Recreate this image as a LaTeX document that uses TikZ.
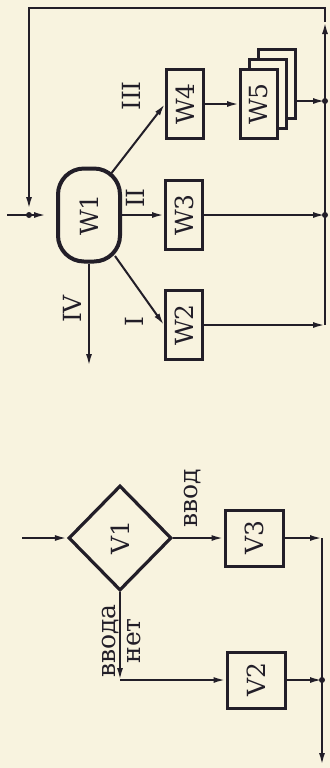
\documentclass[tikz,border=0pt]{standalone}
\usepackage{fontspec}
\setmainfont{DejaVu Serif}
\usepackage{graphicx}
\usetikzlibrary{arrows.meta, shapes.geometric}
\definecolor{ink}{HTML}{221E28}
\definecolor{paper}{HTML}{F8F3DF}
\newcommand{\vtext}[1]{\rotatebox{90}{#1}}

\begin{document}
\begin{tikzpicture}[
  x=0.5pt, y=-0.5pt, color=ink,
  font=\fontsize{12.5pt}{14pt}\selectfont,
  wbox/.style={rectangle, draw, line width=1.5pt, fill=paper,
    minimum width=18.5pt, minimum height=34.5pt, inner sep=0pt},
  vbox/.style={rectangle, draw, line width=1.5pt,
    minimum width=29pt, minimum height=28pt, inner sep=0pt},
  blob/.style={rectangle, draw, line width=2pt, rounded corners=13pt,
    minimum width=31pt, minimum height=46.5pt, inner sep=0pt},
  decide/.style={diamond, draw, line width=1.6pt,
    minimum width=51.5pt, minimum height=52.5pt, inner sep=0pt},
  lbl/.style={rotate=90, inner sep=0pt},
  flow/.style={line width=1pt, -{Latex[length=6pt,width=3pt]}},
  dot/.style={circle, fill, inner sep=0pt, minimum size=3pt},
]
  \fill[paper] (0,0) rectangle (330,768);
  \useasboundingbox (0,0) rectangle (330,768);

  % upper scheme
  \node[blob] (W1) at (89,215) {\vtext{W1}};
  \node[wbox] (W2) at (184,325) {\vtext{W2}};
  \node[wbox] (W3) at (184,215) {\vtext{W3}};
  \node[wbox] (W4) at (185,104) {\vtext{W4}};
  \node[wbox] (W5c) at (277,84) {};
  \node[wbox] (W5b) at (268,94) {};
  \node[wbox] (W5) at (259,104) {\vtext{W5}};

  \coordinate (in1) at (7,215);
  \coordinate (j1) at (29,215);
  \coordinate (tl) at (29,8);
  \coordinate (tr) at (325,8);
  \coordinate (ra) at (325,22);
  \coordinate (r2) at (325,325);
  \coordinate (r3) at (325,215);
  \coordinate (r5) at (325,101);
  \coordinate (out4) at (89,366);

  \draw[flow, shorten >=5pt] (in1) -- (W1.west);
  \draw[flow] (r2) -- (ra);
  \draw[flow, shorten >=3pt] (ra) -- (tr) -- (tl) -- (j1);
  \node[dot] (d1) at (j1) {};

  \draw[flow] ([shift={(26,41)}]W1.center) -- (W2.west);
  \draw[flow] (W1.east) -- (W3.west);
  \draw[flow] ([shift={(21,-40)}]W1.center) -- (W4.west);
  \draw[flow] (W1.south) -- (out4);

  \draw[flow] (W2.east) -- (r2);
  \draw[flow] (W3.east) -- (r3);
  \draw[flow] (W4.east) -- (W5.west);
  \draw[flow] (r5 -| W5c.east) -- (r5);
  \node[dot] (d3) at (r3) {};
  \node[dot] (d5) at (r5) {};

  \node[lbl] (lI) at (134,322) {I};
  \node[lbl] (lII) at (135,198) {II};
  \node[lbl] (lIII) at (131,96) {III};
  \node[lbl] (lIV) at (72,309) {IV};

  % lower scheme
  \node[decide] (V1) at (120,538) {\vtext{V1}};
  \node[vbox] (V3) at (254,538) {\vtext{V3}};
  \node[vbox] (V2) at (256,680) {\vtext{V2}};

  \coordinate (in2) at (22,538);
  \coordinate (c1) at (V1.south |- V2.west);
  \coordinate (c3) at (322,538);
  \coordinate (c2) at (322,680);
  \coordinate (out2) at (322,765);

  \draw[flow] (in2) -- (V1.west);
  \draw[flow] (V1.east) -- (V3.west);
  \draw[flow] (V3.east) -- (c3);
  \draw[flow] (c3) -- (out2);
  \draw[flow] (V1.south) -- (c1);
  \draw[flow] (c1) -- (V2.west);
  \draw[flow] (V2.east) -- (c2);
  \node[dot] (d2) at (c2) {};

  \node[lbl] (yes) at (193,498) {ввод};
  \node[lbl, align=center] (no) at (122,641) {ввода\\[-1.5pt]нет};
\end{tikzpicture}
\end{document}
